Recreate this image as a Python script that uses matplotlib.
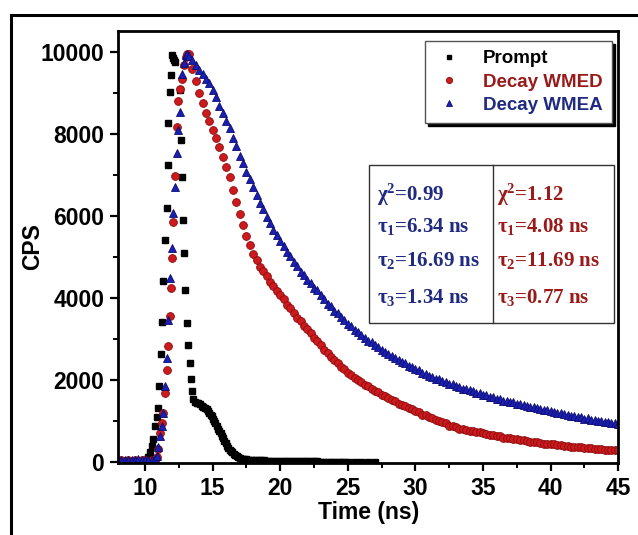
import numpy as np
import matplotlib as mpl
mpl.use('Agg')
mpl.rcParams['xtick.direction'] = 'out'
mpl.rcParams['ytick.direction'] = 'out'
mpl.rcParams['font.family'] = ['Liberation Sans', 'DejaVu Sans']
mpl.rcParams['font.weight'] = 'bold'
mpl.rcParams['mathtext.fontset'] = 'custom'
mpl.rcParams['mathtext.rm'] = 'Liberation Serif:bold'
mpl.rcParams['mathtext.it'] = 'Liberation Serif:bold'
mpl.rcParams['mathtext.bf'] = 'Liberation Serif:bold'
mpl.rcParams['mathtext.default'] = 'rm'
from matplotlib import pyplot as plt
from matplotlib.patches import Rectangle
from matplotlib.lines import Line2D

#===========================
#==   DATA
#===========================
# - Prompt (IRF)
prompt_t = [9.6, 9.85, 10.1, 10.23, 10.37, 10.48, 10.6, 10.74, 10.86, 10.98, 11.06, 11.16,
            11.23, 11.35, 11.48, 11.6, 11.68, 11.72, 11.85, 11.92, 11.97, 12.05, 12.14, 12.22,
            12.59, 12.65, 12.71, 12.77, 12.9, 12.96, 13.08, 13.2, 13.33, 13.39, 13.45, 13.57,
            13.7, 13.82, 13.95, 14.07, 14.2, 14.3, 14.45, 14.56, 14.65, 14.75, 14.85, 14.93,
            15.02, 15.1, 15.2, 15.3, 15.4, 15.5, 15.6, 15.67, 15.75, 15.85, 15.95, 16.05,
            16.15, 16.25, 16.35, 16.42, 16.55, 16.65, 16.78, 16.9, 17.05, 17.2, 17.35, 17.5,
            17.65, 17.8, 18.0, 18.2, 18.4, 18.6, 18.8, 19.0, 19.25, 19.5, 19.75, 20.0, 20.25,
            20.5, 20.75, 21.0, 21.25, 21.5, 21.75, 22.0, 22.25, 22.5, 22.75, 23.0, 23.25, 23.5,
            23.75, 24.0, 24.25, 24.5, 24.75, 25.0, 25.5, 26.0, 26.5, 27.0]
prompt_y = [10, 20, 50, 120, 240, 400, 560, 885, 1100, 1330, 1860, 2630,
            3410, 4420, 5430, 6200, 7250, 8280, 9040, 9440, 9930, 9870, 9800, 9760,
            9080, 7860, 6950, 5910, 5100, 4210, 3400, 2870, 2430, 2020, 1740, 1530,
            1480, 1450, 1440, 1410, 1380, 1350, 1320, 1290, 1250, 1200, 1160, 1130,
            1060, 1000, 950, 885, 820, 760, 700, 640, 580, 520, 460, 400,
            350, 300, 265, 236, 200, 170, 140, 115, 95, 85, 78, 70,
            65, 60, 55, 50, 48, 45, 42, 40, 38, 35, 33, 30, 29,
            28, 26, 25, 24, 22, 21, 20, 19, 18, 17, 16, 15, 14,
            13, 12, 11, 11, 10, 10, 9, 8, 7, 6]

# - Rising edge of the two decays
rise_t_wmed = [8.0, 8.25, 8.5, 8.75, 9.0, 9.25, 9.5, 9.75, 10.0, 10.25, 10.5, 10.75,
               10.85, 10.97, 11.1, 11.23, 11.35, 11.48, 11.6, 11.72, 11.85, 11.91, 11.97,
               12.09, 12.2, 12.34, 12.47, 12.59, 12.71, 12.85, 13.0, 13.12]
rise_y_wmed = [40, 45, 35, 50, 40, 45, 40, 50, 45, 40, 55, 60,
               130, 325, 720, 950, 1210, 1690, 2260, 2830, 3560, 4250, 4980,
               5870, 6970, 8180, 8800, 9100, 9350, 9700, 9880, 9960]
rise_t_wmea = [8.0, 8.25, 8.5, 8.75, 9.0, 9.25, 9.5, 9.75, 10.0, 10.25, 10.5, 10.75,
               10.85, 10.97, 11.1, 11.23, 11.35, 11.48, 11.6, 11.72, 11.85, 11.97, 12.09,
               12.22, 12.34, 12.47, 12.59, 12.71, 12.85, 13.0, 13.12]
rise_y_wmea = [60, 55, 65, 50, 60, 55, 70, 50, 60, 65, 55, 70,
               150, 370, 650, 880, 1210, 1860, 2550, 3480, 4490, 5220, 6080,
               6720, 7540, 8100, 8550, 9480, 9750, 9930, 9950]

# - Decay tails, sampled every 0.25 ns from 13.25 to 45 ns
tail_t = np.arange(13.25, 45.01, 0.25)
tail_y_wmed = [9950, 9600, 9300,
               9000, 8760, 8520, 8330, 8100, 7910, 7680, 7440, 7200, 6960, 6650, 6350,
               6050, 5790, 5510, 5300, 5080, 4930, 4770, 4660, 4530, 4400, 4310, 4180,
               4080, 3970, 3840, 3750, 3630, 3520, 3440, 3320, 3240, 3160, 3040, 2960,
               2850, 2740, 2670, 2570, 2500, 2430, 2330, 2270, 2180, 2130, 2050, 2010,
               1950, 1890, 1860, 1780, 1730, 1700, 1630, 1610, 1560, 1510, 1490, 1430,
               1400, 1370, 1310, 1300, 1250, 1220, 1160, 1150, 1100, 1070, 1020, 1010,
               970, 950, 890, 880, 850, 820, 815, 780, 770, 760, 730, 725,
               710, 680, 675, 655, 640, 630, 600, 595, 580, 565, 555, 535,
               530, 520, 500, 495, 480, 475, 455, 455, 440, 435, 415, 415,
               400, 395, 375, 380, 365, 360, 345, 345, 335, 330, 315, 315,
               305, 300, 290, 295, 285]
tail_y_wmea = [9900, 9800, 9700,
               9560, 9460, 9340, 9260, 9080, 8910, 8690, 8530, 8330, 8150, 7920, 7710,
               7480, 7300, 7090, 6910, 6710, 6530, 6320, 6170, 5990, 5840, 5670, 5540,
               5390, 5270, 5120, 5020, 4890, 4780, 4650, 4560, 4450, 4360, 4260, 4190,
               4080, 3990, 3870, 3800, 3700, 3630, 3530, 3470, 3380, 3310, 3220, 3170,
               3100, 3040, 2960, 2920, 2860, 2810, 2730, 2700, 2640, 2600, 2530, 2500,
               2440, 2410, 2340, 2320, 2270, 2240, 2180, 2160, 2110, 2090, 2040, 2020,
               1980, 1960, 1910, 1900, 1860, 1840, 1790, 1790, 1750, 1730, 1690, 1680,
               1650, 1630, 1590, 1590, 1550, 1540, 1500, 1500, 1470, 1460, 1420, 1420,
               1390, 1380, 1340, 1340, 1310, 1300, 1270, 1270, 1240, 1230, 1190, 1200,
               1170, 1160, 1130, 1130, 1100, 1100, 1060, 1070, 1040, 1040, 1000, 1010,
               985, 980, 950, 950, 925]

labels = ['Prompt', 'Decay WMED', 'Decay WMEA']
fit_wmea = [r'$\chi^{2}$=0.99', r'$\tau_{1}$=6.34 ns', r'$\tau_{2}$=16.69 ns', r'$\tau_{3}$=1.34 ns']
fit_wmed = [r'$\chi^{2}$=1.12', r'$\tau_{1}$=4.08 ns', r'$\tau_{2}$=11.69 ns', r'$\tau_{3}$=0.77 ns']

# - Colors
c_red = '#cc1a1e'
c_red_txt = '#9a1a1a'
c_blue = '#1b1fb0'
c_blue_txt = '#1f2a80'

#===========================
#==   PLOT
#===========================
fig = plt.figure(figsize=(6.38, 5.35), dpi=100)
ax = fig.add_axes([0.185, 0.1346, 0.784, 0.8075])

wmed_t = list(rise_t_wmed) + list(tail_t)
wmed_y = list(rise_y_wmed) + list(tail_y_wmed)
wmea_t = list(rise_t_wmea) + list(tail_t)
wmea_y = list(rise_y_wmea) + list(tail_y_wmea)

ax.plot(prompt_t, prompt_y, ls='none', marker='s', ms=4.4, color='black', label=labels[0])
ax.plot(wmed_t, wmed_y, ls='none', marker='o', ms=5.6, mfc=c_red, mec='#8a0c0c', mew=0.6, label=labels[1])
ax.plot(wmea_t, wmea_y, ls='none', marker='^', ms=6.2, mfc=c_blue, mec='#0c0c70', mew=0.6, label=labels[2])

# - Axes ranges and ticks
ax.set_xlim(8, 45)
ax.set_ylim(-20, 10520)
ax.set_xticks(np.arange(10, 46, 5))
ax.set_xticks(np.arange(10, 45, 2.5), minor=True)
ax.set_yticks(np.arange(0, 10001, 2000))
ax.set_yticks(np.arange(0, 10001, 1000), minor=True)
ax.tick_params(which='major', length=6, width=1.6, labelsize=16.5, pad=4)
ax.tick_params(which='minor', length=3.5, width=1.4)
for lab in ax.get_xticklabels() + ax.get_yticklabels():
	lab.set_fontweight('bold')
for sp in ax.spines.values():
	sp.set_linewidth(2)

ax.set_xlabel('Time (ns)', fontsize=16.5, fontweight='bold', labelpad=1)
ax.set_ylabel('CPS', fontsize=16.5, fontweight='bold', labelpad=-3)

# - Legend with black shadow
leg = ax.legend(loc='upper right', bbox_to_anchor=(0.988, 0.977), fancybox=False,
                shadow={'color': 'black', 'alpha': 1.0}, framealpha=1, edgecolor='#555555',
                prop={'size': 13.5, 'weight': 'bold'}, handlelength=1.6, handletextpad=1.0,
                borderpad=0.5, labelspacing=0.32, borderaxespad=0, markerscale=0.8)
leg.get_frame().set_linewidth(1.0)
for txt, col in zip(leg.get_texts(), ['black', c_red_txt, c_blue_txt]):
	txt.set_color(col)

# - Fit parameter box
ax.add_patch(Rectangle((0.502, 0.324), 0.49, 0.366, transform=ax.transAxes,
                       fill=False, lw=1.0, ec='#333333', zorder=5))
ax.add_line(Line2D([0.75, 0.75], [0.324, 0.69], transform=ax.transAxes, lw=1.0, color='#333333', zorder=5))
rows_y = [0.62, 0.548, 0.468, 0.383]
for yy, s1, s2 in zip(rows_y, fit_wmea, fit_wmed):
	ax.text(0.518, yy, s1, transform=ax.transAxes, color=c_blue_txt, fontsize=15,
	        family='Liberation Serif', fontweight='bold', va='center', ha='left')
	ax.text(0.758, yy, s2, transform=ax.transAxes, color=c_red_txt, fontsize=15,
	        family='Liberation Serif', fontweight='bold', va='center', ha='left')

# - Outer frame (left and top edges)
fig.add_artist(Line2D([0.0172, 0.0172], [0.0, 0.972], transform=fig.transFigure, lw=2.2, color='black'))
fig.add_artist(Line2D([0.0172, 1.0], [0.972, 0.972], transform=fig.transFigure, lw=2.2, color='black'))

plt.savefig('out.png', dpi=100)
